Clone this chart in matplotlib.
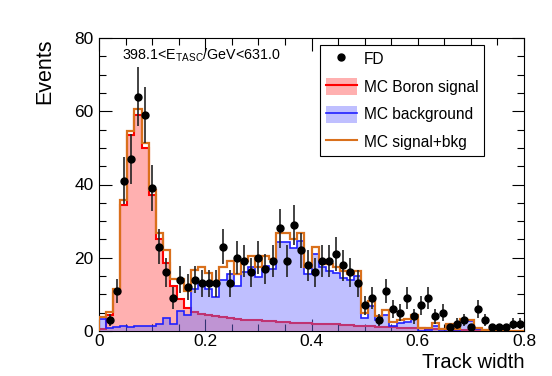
import numpy as np
import matplotlib
matplotlib.use("Agg")
import matplotlib.pyplot as plt
from matplotlib.lines import Line2D
from matplotlib.patches import Patch

plt.rcParams['font.family'] = ['Liberation Sans', 'DejaVu Sans']
plt.rcParams['mathtext.fontset'] = 'custom'
plt.rcParams['mathtext.rm'] = 'Liberation Sans'

# ---- data ----
bin_edges = np.linspace(0.0, 0.8, 61)

signal = [0.5, 4.5, 10.4, 34.5, 53.5, 59.0, 50.0, 37.0, 25.0, 18.5,
          12.3, 8.7, 6.4, 5.2, 4.6, 4.3, 4.0, 3.7, 3.5, 3.3,
          3.1, 3.0, 2.9, 2.8, 2.7, 2.5, 2.4, 2.3, 2.2, 2.1,
          2.0, 1.9, 1.9, 1.8, 1.7, 1.6, 1.5, 1.4, 1.3, 1.2,
          1.1, 1.0, 0.9, 0.8, 0.8, 0.7, 0.6, 0.6, 0.5, 0.5,
          0.4, 0.4, 0.3, 0.3, 0.2, 0.2, 0.2, 0.1, 0.1, 0.1]

background = [3.3, 0.8, 1.0, 1.4, 1.2, 1.5, 1.3, 1.5, 1.8, 3.5,
              2.0, 5.5, 4.5, 11.5, 13.0, 11.5, 9.3, 13.8, 15.5, 12.3,
              16.0, 17.5, 14.7, 17.8, 17.0, 24.3, 24.3, 22.7, 24.5, 15.5,
              21.0, 17.5, 16.5, 15.8, 14.6, 13.9, 14.9, 3.5, 6.8, 2.9,
              4.5, 1.5, 2.2, 2.4, 3.7, 0.0, 0.3, 1.5, 0.1, 1.4,
              0.1, 2.8, 2.8, 0.6, 0.0, 0.0, 0.0, 0.0, 0.0, 0.0]

data_counts = [np.nan, 3, 11, 41, 47, 64, 59, 39, 23, 16,
               9, 14, 12, 14, 13, 13, 13, 23, 13, 20,
               19, 16, 20, 17, 19, 28, 19, 29, 22, 18,
               16, 19, 19, 21, 18, 16, 13, 7, 9, 3,
               11, 6, 5, 9, 4, 7, 9, 4, 5, 1,
               2, 3, 1, 6, 3, 1, 1, 1, 2, 2]

x_ticks = [0, 0.2, 0.4, 0.6, 0.8]
x_tick_labels = ['0', '0.2', '0.4', '0.6', '0.8']
y_ticks = [0, 20, 40, 60, 80]
y_tick_labels = ['0', '20', '40', '60', '80']
energy_label = r'398.1<E$_{\mathrm{TASC}}$/GeV<631.0'

# ---- plot ----
signal = np.array(signal)
background = np.array(background)
total = signal + background
counts = np.array(data_counts, dtype=float)
centers = 0.5 * (bin_edges[:-1] + bin_edges[1:])

W, H = 552, 376
fig = plt.figure(figsize=(W/100, H/100), dpi=100)
ax = fig.add_axes([99/W, 1 - 331/H, (524 - 99)/W, (331 - 38)/H])

red = '#ff0000'
pink = '#ffb0b0'
blue = '#2020ff'
bluefill = (0.45, 0.45, 1.0, 0.45)
orange = '#d9701c'

ax.stairs(signal, bin_edges, fill=True, color=pink, zorder=1)
ax.stairs(signal, bin_edges, color=red, lw=1.5, zorder=2)
ax.stairs(background, bin_edges, fill=True, color=bluefill, zorder=3)
ax.stairs(background, bin_edges, color=blue, lw=1.2, zorder=4)
ax.stairs(total, bin_edges, color=orange, lw=1.6, zorder=5)

m = ~np.isnan(counts)
ax.errorbar(centers[m], counts[m], yerr=np.sqrt(counts[m]), fmt='o', color='black',
            ecolor='#222222', elinewidth=1.2, markersize=5, capsize=0, zorder=6)

ax.set_xlim(0, 0.8)
ax.set_ylim(0, 80)
ax.set_xticks(x_ticks)
ax.set_xticklabels(x_tick_labels)
ax.set_yticks(y_ticks)
ax.set_yticklabels(y_tick_labels)
ax.set_xticks(np.arange(0, 0.801, 0.05), minor=True)
ax.set_yticks(np.arange(0, 81, 5), minor=True)
ax.tick_params(which='both', direction='in', top=True, right=True, labelsize=12.5)
ax.tick_params(axis='x', pad=2.5)
ax.tick_params(axis='y', pad=4)
ax.tick_params(which='major', length=9, width=0.8)
ax.tick_params(which='minor', length=5, width=0.8)
for s in ax.spines.values():
    s.set_linewidth(0.8)

fig.text(525/W, 1 - 367.5/H, 'Track width', fontsize=14.5, ha='right', va='baseline')
fig.text(45/W, 1 - 38/H, 'Events', fontsize=15.5, ha='center', va='top', rotation=90)

ax.text(0.055, 0.942, energy_label, transform=ax.transAxes, fontsize=10.3, ha='left', va='center')

handles = [
    Line2D([], [], marker='o', color='black', linestyle='none', markersize=5),
    (Patch(facecolor=pink, edgecolor='none'), Line2D([], [], color=red, lw=1.5)),
    (Patch(facecolor=bluefill, edgecolor='none'), Line2D([], [], color=blue, lw=1.2)),
    Line2D([], [], color=orange, lw=1.5),
]
labels = ['FD', 'MC Boron signal', 'MC background', 'MC signal+bkg']
leg = ax.legend(handles, labels, loc='upper left', bbox_to_anchor=(320/W, 1 - 45/H),
                bbox_transform=fig.transFigure, fontsize=11.2, frameon=True, fancybox=False,
                edgecolor='black', framealpha=1, handlelength=2.0, handleheight=1.3,
                labelspacing=0.68, borderpad=0.36, handletextpad=0.45, borderaxespad=0)
leg.get_frame().set_linewidth(0.8)

fig.savefig('out.png', dpi=100)
